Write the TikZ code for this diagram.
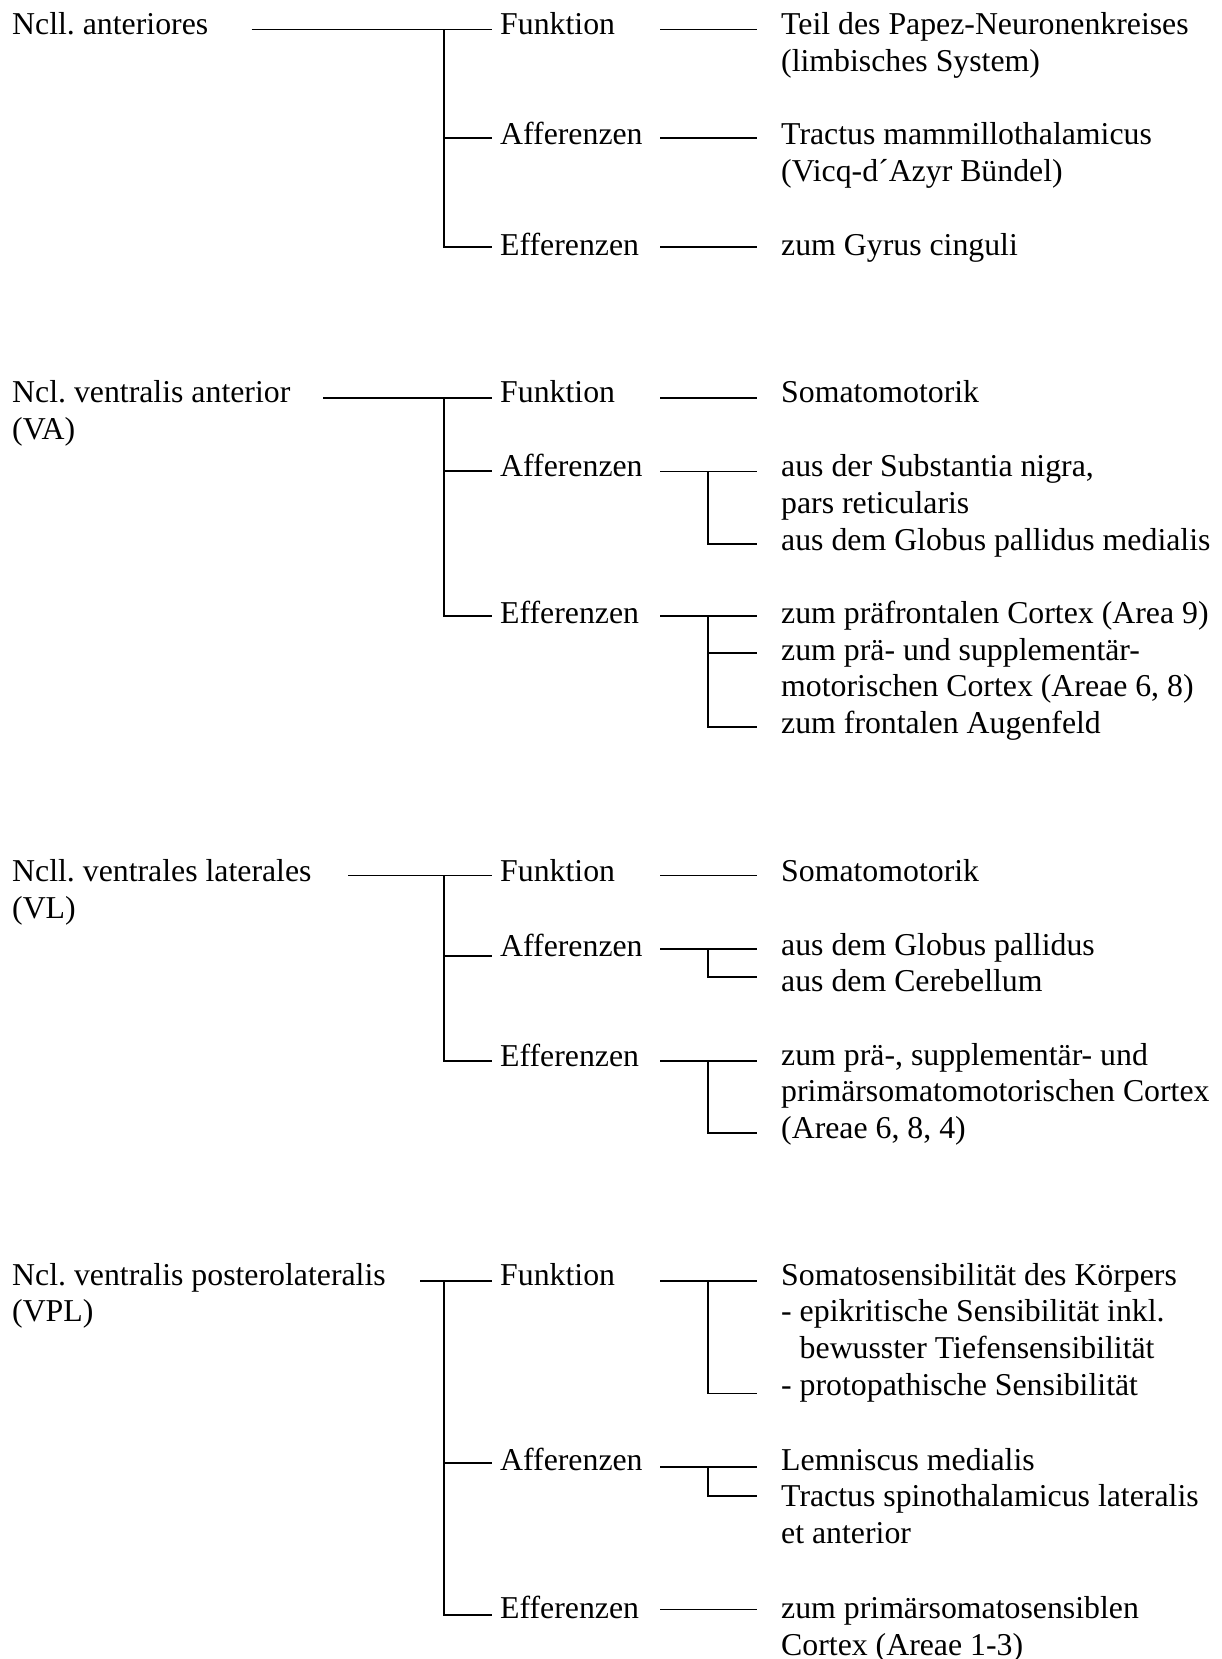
\documentclass[tikz,border=0pt]{standalone}
\usepackage{fontspec}
\setmainfont{Liberation Serif}
\frenchspacing
\newcommand{\mltext}[1]{\begin{tabular}[t]{@{}l@{}}#1\end{tabular}}
\begin{document}
\begin{tikzpicture}[x=1pt,y=-1pt,
  txt/.style={anchor=base west, inner sep=0pt, font=\fontsize{31.8}{36.7}\selectfont\frenchspacing},
  ln/.style={line width=1.9pt}]
\useasboundingbox (0,0) rectangle (1222,1659);
\coordinate (X1) at (444,0);
\coordinate (X2) at (492,0);
\coordinate (S1) at (660,0);
\coordinate (X3) at (708,0);
\coordinate (S2) at (757,0);

% ---------- Group A ----------
\node[txt] (A)   at (12,35)  {Ncll. anteriores};
\node[txt] (Af)  at (500,35) {Funktion};
\node[txt] (Aa)  at (500,145) {Afferenzen};
\node[txt] (Ae)  at (500,255) {Efferenzen};
\node[txt] (Af1) at (781,35) {\mltext{Teil des Papez-Neuronenkreises\\(limbisches System)}};
\node[txt] (Aa1) at (781,145) {\mltext{Tractus mammillothalamicus\\(Vicq-d´Azyr Bündel)}};
\node[txt] (Ae1) at (781,255) {zum Gyrus cinguli};
\coordinate (A-m) at (251.5,29.5);
\coordinate (Ay1) at (0,29.5);
\coordinate (Ay2) at (0,138);
\coordinate (Ay3) at (0,247);
\draw[ln] (A-m) -- (X2 |- Ay1);
\draw[ln] (X1 |- Ay1) -- (X1 |- Ay3) -- (X2 |- Ay3);
\draw[ln] (X1 |- Ay2) -- (X2 |- Ay2);
\draw[ln] (S1 |- Ay1) -- (S2 |- Ay1);
\draw[ln] (S1 |- Ay2) -- (S2 |- Ay2);
\draw[ln] (S1 |- Ay3) -- (S2 |- Ay3);

% ---------- Group VA ----------
\node[txt] (V)   at (12,402.7) {\mltext{Ncl. ventralis anterior\\(VA)}};
\node[txt] (Vf)  at (500,402.7) {Funktion};
\node[txt] (Va)  at (500,476.7) {Afferenzen};
\node[txt] (Ve)  at (500,623) {Efferenzen};
\node[txt] (Vf1) at (781,402.7) {Somatomotorik};
\node[txt] (Va1) at (781,476.7) {\mltext{aus der Substantia nigra,\\pars reticularis\\aus dem Globus pallidus medialis}};
\node[txt] (Ve1) at (781,623.3) {\mltext{zum präfrontalen Cortex (Area 9)\\zum prä- und supplementär-\\motorischen Cortex (Areae 6, 8)\\zum frontalen Augenfeld}};
\coordinate (V-m) at (323.4,398.3);
\coordinate (Vy1) at (0,398.3);
\coordinate (Vy2) at (0,470.8);
\coordinate (Vy3) at (0,616);
\coordinate (Vs2) at (0,471.5);
\coordinate (Va-b) at (0,544);
\coordinate (Ve-b1) at (0,653.3);
\coordinate (Ve-b2) at (0,726.7);
\draw[ln] (V-m) -- (X2 |- Vy1);
\draw[ln] (X1 |- Vy1) -- (X1 |- Vy3) -- (X2 |- Vy3);
\draw[ln] (X1 |- Vy2) -- (X2 |- Vy2);
\draw[ln] (S1 |- Vy1) -- (S2 |- Vy1);
\draw[ln] (S1 |- Vs2) -- (S2 |- Vs2);
\draw[ln] (X3 |- Vs2) -- (X3 |- Va-b) -- (S2 |- Va-b);
\draw[ln] (S1 |- Vy3) -- (S2 |- Vy3);
\draw[ln] (X3 |- Vy3) -- (X3 |- Ve-b2) -- (S2 |- Ve-b2);
\draw[ln] (X3 |- Ve-b1) -- (S2 |- Ve-b1);

% ---------- Group VL ----------
\node[txt] (L)   at (12,881.7) {\mltext{Ncll. ventrales laterales\\(VL)}};
\node[txt] (Lf)  at (500,881.7) {Funktion};
\node[txt] (La)  at (500,956.7) {Afferenzen};
\node[txt] (Le)  at (500,1066.7) {Efferenzen};
\node[txt] (Lf1) at (781,881.7) {Somatomotorik};
\node[txt] (La1) at (781,955) {\mltext{aus dem Globus pallidus\\aus dem Cerebellum}};
\node[txt] (Le1) at (781,1065) {\mltext{zum prä-, supplementär- und\\primärsomatomotorischen Cortex\\(Areae 6, 8, 4)}};
\coordinate (L-m) at (348,875.5);
\coordinate (Ly1) at (0,875.5);
\coordinate (Ly2) at (0,956);
\coordinate (Ly3) at (0,1061);
\coordinate (Ls2) at (0,949);
\coordinate (La-b) at (0,976.7);
\coordinate (Le-b) at (0,1133.3);
\draw[ln] (L-m) -- (X2 |- Ly1);
\draw[ln] (X1 |- Ly1) -- (X1 |- Ly3) -- (X2 |- Ly3);
\draw[ln] (X1 |- Ly2) -- (X2 |- Ly2);
\draw[ln] (S1 |- Ly1) -- (S2 |- Ly1);
\draw[ln] (S1 |- Ls2) -- (S2 |- Ls2);
\draw[ln] (X3 |- Ls2) -- (X3 |- La-b) -- (S2 |- La-b);
\draw[ln] (S1 |- Ly3) -- (S2 |- Ly3);
\draw[ln] (X3 |- Ly3) -- (X3 |- Le-b) -- (S2 |- Le-b);

% ---------- Group VPL ----------
\node[txt] (P)   at (12,1285) {\mltext{Ncl. ventralis posterolateralis\\(VPL)}};
\node[txt] (Pf)  at (500,1285) {Funktion};
\node[txt] (Pa)  at (500,1470) {Afferenzen};
\node[txt] (Pe)  at (500,1618.3) {Efferenzen};
\node[txt] (Pf1) at (781,1285) {\mltext{Somatosensibilität des Körpers\\- epikritische Sensibilität inkl.\\\hphantom{-} bewusster Tiefensensibilität\\- protopathische Sensibilität}};
\node[txt] (Pa1) at (781,1470) {\mltext{Lemniscus medialis\\Tractus spinothalamicus lateralis\\et anterior}};
\node[txt] (Pe1) at (781,1618.3) {\mltext{zum primärsomatosensiblen\\Cortex (Areae 1-3)}};
\coordinate (P-m) at (420,1280.7);
\coordinate (Py1) at (0,1280.7);
\coordinate (Py2) at (0,1463);
\coordinate (Py3) at (0,1615);
\coordinate (Ps2) at (0,1467);
\coordinate (Ps3) at (0,1609.5);
\coordinate (Pf-b) at (0,1393.5);
\coordinate (Pa-b) at (0,1495.7);
\draw[ln] (P-m) -- (X2 |- Py1);
\draw[ln] (X1 |- Py1) -- (X1 |- Py3) -- (X2 |- Py3);
\draw[ln] (X1 |- Py2) -- (X2 |- Py2);
\draw[ln] (S1 |- Py1) -- (S2 |- Py1);
\draw[ln] (X3 |- Py1) -- (X3 |- Pf-b) -- (S2 |- Pf-b);
\draw[ln] (S1 |- Ps2) -- (S2 |- Ps2);
\draw[ln] (X3 |- Ps2) -- (X3 |- Pa-b) -- (S2 |- Pa-b);
\draw[ln] (S1 |- Ps3) -- (S2 |- Ps3);
\end{tikzpicture}
\end{document}
